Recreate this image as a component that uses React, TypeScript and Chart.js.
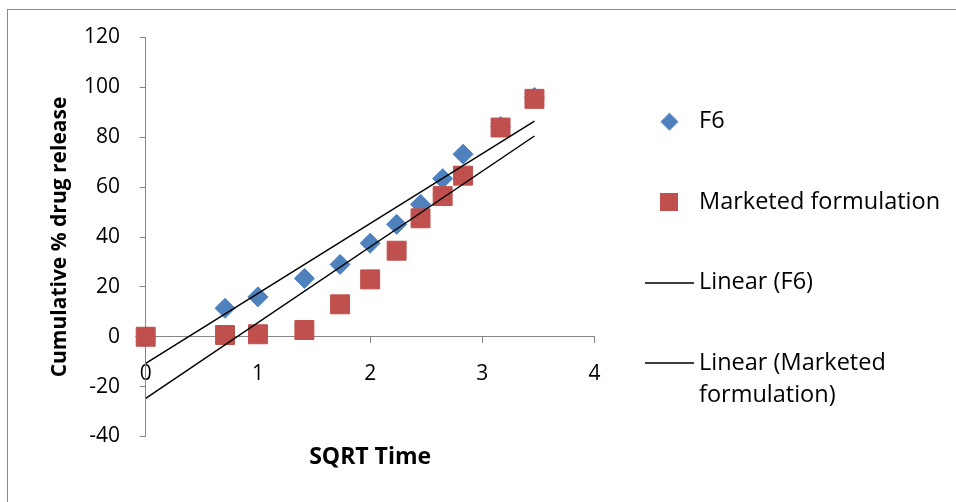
import React, { useEffect, useRef } from 'react';
import { Chart, registerables } from 'chart.js';

Chart.register(...registerables);

// ---- data ----
const sqrtTime = [0, 0.707, 1, 1.414, 1.732, 2, 2.236, 2.449, 2.646, 2.828, 3.162, 3.464];
const f6Release = [0, 11.4, 16.0, 23.4, 29.0, 37.5, 45.1, 53.1, 63.4, 73.2, 84.3, 96.0];
const marketedRelease = [0, 0.7, 1.0, 2.7, 13.0, 23.0, 34.5, 47.5, 56.4, 64.6, 83.9, 95.4];
const trendX = [0, 3.464];
const trendF6 = [-10.7, 86.5];
const trendMarketed = [-24.7, 80.5];
const xRange = [0, 4, 1];
const yRange = [-40, 120, 20];
const seriesNames = ['F6', 'Marketed formulation', 'Linear (F6)', 'Linear (Marketed formulation)'];
const legendLines = [['F6'], ['Marketed formulation'], ['Linear (F6)'], ['Linear (Marketed', 'formulation)']];
const xTitle = 'SQRT Time';
const yTitle = 'Cumulative % drug release';

const F6_COLOR = '#4F81BD';
const MKT_COLOR = '#C0504D';
const TREND_COLOR = '#000000';
const AXIS_COLOR = '#868686';
const FONT = "'Open Sans', 'Liberation Sans', sans-serif";

function makeSymbol(kind: string, color: string): HTMLCanvasElement {
  const c = document.createElement('canvas');
  if (kind === 'diamond') {
    c.width = 19; c.height = 19;
    const ctx = c.getContext('2d')!;
    ctx.fillStyle = color;
    ctx.beginPath();
    ctx.moveTo(9.5, 0.5); ctx.lineTo(18.5, 9.5); ctx.lineTo(9.5, 18.5); ctx.lineTo(0.5, 9.5);
    ctx.closePath(); ctx.fill();
  } else if (kind === 'square') {
    c.width = 18; c.height = 18;
    const ctx = c.getContext('2d')!;
    ctx.fillStyle = color;
    ctx.fillRect(0, 0, 18, 18);
  } else {
    c.width = 49; c.height = 2;
    const ctx = c.getContext('2d')!;
    ctx.fillStyle = color;
    ctx.fillRect(0, 0.25, 49, 1.5);
  }
  return c;
}

export default function App() {
  const ref = useRef<HTMLCanvasElement | null>(null);

  useEffect(() => {
    if (!ref.current) return;
    const symbols = [
      makeSymbol('diamond', F6_COLOR),
      makeSymbol('square', MKT_COLOR),
      makeSymbol('line', TREND_COLOR),
      makeSymbol('line', TREND_COLOR),
    ];
    const pts = (xs: number[], ys: number[]) => xs.map((x, i) => ({ x, y: ys[i] }));

    const chart = new Chart(ref.current, {
      type: 'scatter',
      data: {
        datasets: [
          {
            label: seriesNames[0],
            data: pts(sqrtTime, f6Release),
            pointStyle: 'rectRot',
            pointRadius: 10,
            pointHoverRadius: 10,
            backgroundColor: F6_COLOR,
            borderColor: F6_COLOR,
            borderWidth: 1,
            showLine: false,
            clip: false,
            order: 2,
          },
          {
            label: seriesNames[1],
            data: pts(sqrtTime, marketedRelease),
            pointStyle: 'rect',
            pointRadius: 13.4,
            pointHoverRadius: 13.4,
            backgroundColor: MKT_COLOR,
            borderColor: MKT_COLOR,
            borderWidth: 1,
            showLine: false,
            clip: false,
            order: 1,
          },
          {
            label: seriesNames[2],
            data: pts(trendX, trendF6),
            showLine: true,
            borderColor: TREND_COLOR,
            backgroundColor: TREND_COLOR,
            borderWidth: 1.5,
            pointRadius: 0,
            pointHoverRadius: 0,
            order: 0,
          },
          {
            label: seriesNames[3],
            data: pts(trendX, trendMarketed),
            showLine: true,
            borderColor: TREND_COLOR,
            backgroundColor: TREND_COLOR,
            borderWidth: 1.5,
            pointRadius: 0,
            pointHoverRadius: 0,
            order: 0,
          },
        ],
      },
      options: {
        responsive: false,
        animation: false,
        devicePixelRatio: 1,
        layout: { padding: { top: 37.5, left: 0, right: 0, bottom: 65.5 } },
        plugins: {
          tooltip: { enabled: false },
          legend: {
            display: true,
            position: 'right',
            align: 'start',
            maxWidth: 361.4,
            title: { display: true, text: '', padding: 0, font: { size: 12, lineHeight: '15.45px' } },
            labels: {
              usePointStyle: true,
              pointStyleWidth: 35.65,
              padding: 57,
              color: '#000',
              font: { family: FONT, size: 23.5, lineHeight: 1.35 },
              generateLabels: (ch: any) => {
                const items = Chart.defaults.plugins.legend.labels.generateLabels(ch);
                items.sort((a: any, b: any) => a.datasetIndex - b.datasetIndex);
                return items.map((it: any) => ({
                  ...it,
                  text: legendLines[it.datasetIndex].length > 1 ? legendLines[it.datasetIndex] : legendLines[it.datasetIndex][0],
                  pointStyle: symbols[it.datasetIndex],
                  rotation: 0,
                }));
              },
            },
          },
        },
        scales: {
          x: {
            type: 'linear',
            position: { y: 0 },
            min: xRange[0],
            max: xRange[1],
            afterFit: (s: any) => { s.height = 134.8; },
            ticks: { stepSize: xRange[2], padding: 18.6, color: '#000', font: { family: FONT, size: 21 } },
            grid: { drawOnChartArea: false, drawTicks: true, tickLength: 6, color: AXIS_COLOR },
            border: { display: true, color: AXIS_COLOR, width: 1 },
            title: { display: true, text: xTitle, color: '#000', padding: 0, font: { family: FONT, size: 23, weight: 'bold', lineHeight: 1.2 } },
          },
          y: {
            type: 'linear',
            position: 'left',
            min: yRange[0],
            max: yRange[1],
            afterFit: (s: any) => { s.width = 145.7; },
            ticks: { stepSize: yRange[2], padding: 19.7, color: '#000', font: { family: FONT, size: 21 } },
            grid: { drawOnChartArea: false, drawTicks: true, tickLength: 6, color: AXIS_COLOR },
            border: { display: true, color: AXIS_COLOR, width: 1 },
            title: { display: true, text: yTitle, color: '#000', padding: { top: 47.4, bottom: 0 }, font: { family: FONT, size: 21, weight: 'bold', lineHeight: 1.2 } },
          },
        },
      } as any,
    });
    return () => chart.destroy();
  }, []);

  return (
    <div>
      <div style={{ position: 'fixed', left: 7, top: 9, width: 1200, height: 900, border: '1px solid #8a8a8a', boxSizing: 'border-box' }} />
      <canvas ref={ref} width={956} height={502} style={{ position: 'fixed', left: 0, top: 0, width: 956, height: 502 }} />
    </div>
  );
}
